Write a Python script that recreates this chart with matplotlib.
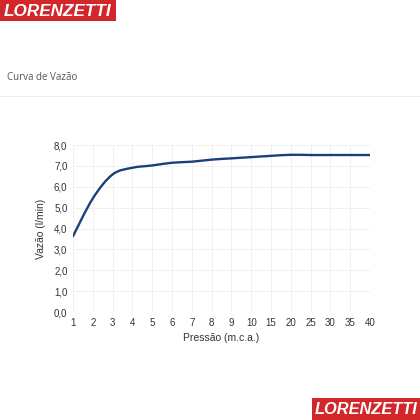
import numpy as np
import matplotlib
matplotlib.use("Agg")
import matplotlib.pyplot as plt
from matplotlib.path import Path
from matplotlib.patches import PathPatch, Rectangle

plt.rcParams['font.family'] = ['Liberation Sans', 'DejaVu Sans']

# data (categorical x axis)
pressao = ['1', '2', '3', '4', '5', '6', '7', '8', '9', '10',
           '15', '20', '25', '30', '35', '40']
vazao = [3.63, 5.44, 6.59, 6.91, 7.02, 7.15, 7.2, 7.3, 7.36, 7.42,
         7.48, 7.53, 7.52, 7.52, 7.52, 7.52]
y_ticks = [0, 1, 2, 3, 4, 5, 6, 7, 8]

fig = plt.figure(figsize=(4.2, 4.2), dpi=100)

## logos and header
red = '#d3262b'
fig.patches.append(Rectangle((0, 1 - 21/420), 116/420, 21/420, transform=fig.transFigure,
                             facecolor=red, edgecolor='none'))
fig.text(58/420, 1 - 11/420, 'LORENZETTI', color='white', fontsize=12.3, fontweight='bold',
         style='italic', ha='center', va='center')
fig.patches.append(Rectangle((312/420, 0), 108/420, 22/420, transform=fig.transFigure,
                             facecolor=red, edgecolor='none'))
fig.text(366/420, 10.5/420, 'LORENZETTI', color='white', fontsize=11.8, fontweight='bold',
         style='italic', ha='center', va='center')
fig.text(7/420, 1 - 78/420, 'Curva de Vazão', color='#555555', fontsize=7,
         family=['Open Sans', 'DejaVu Sans'], va='center')
fig.add_artist(plt.Line2D([0, 1], [1 - 96/420, 1 - 96/420], transform=fig.transFigure,
                          color='#eeeeee', lw=0.8))

## chart
ax = fig.add_axes([73/420, 1 - 312/420, 297/420, 167/420])
x = np.arange(len(pressao))
y = np.array(vazao)

# smooth line (catmull-rom -> bezier)
verts = [(x[0], y[0])]
codes = [Path.MOVETO]
n = len(x)
for i in range(n - 1):
    p0 = np.array([x[max(i - 1, 0)], y[max(i - 1, 0)]])
    p1 = np.array([x[i], y[i]])
    p2 = np.array([x[i + 1], y[i + 1]])
    p3 = np.array([x[min(i + 2, n - 1)], y[min(i + 2, n - 1)]])
    c1 = p1 + (p2 - p0) / 6
    c2 = p2 - (p3 - p1) / 6
    verts += [tuple(c1), tuple(c2), tuple(p2)]
    codes += [Path.CURVE4] * 3
ax.add_patch(PathPatch(Path(verts, codes), facecolor='none', edgecolor='#1a3f7a', lw=1.7,
                       capstyle='round', joinstyle='round'))

ax.set_xlim(0, n - 1)
ax.set_ylim(0, 8)
ax.set_xticks(x)
ax.set_xticklabels(pressao)
ax.set_yticks(y_ticks)
ax.set_yticklabels([('%.1f' % v).replace('.', ',') for v in y_ticks])
ax.grid(True, color='#f0f0f0', lw=0.7)
ax.set_axisbelow(True)
for s in ax.spines.values():
    s.set_visible(False)
ax.tick_params(length=0, labelsize=7, colors='#333333', pad=4)
ax.set_xlabel('Pressão (m.c.a.)', fontsize=7.5, color='#333333', labelpad=4)
ax.set_ylabel('Vazão (l/min)', fontsize=7.5, color='#333333', labelpad=6)

fig.savefig('out.png', dpi=100)
